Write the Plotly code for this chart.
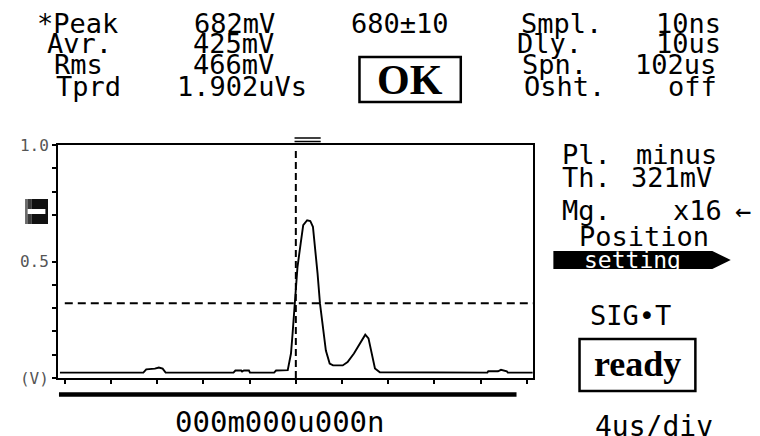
import plotly.graph_objects as go

# ---------------- data ----------------
t_us = [-0.42, 6.80, 7.05, 7.80, 8.14, 8.47, 8.73, 14.60, 14.77, 15.27, 15.35, 15.50, 15.94, 16.03,
        18.12, 18.29, 19.30, 19.58, 19.72, 19.86, 20.00, 20.14, 20.42, 20.64, 20.98, 21.25, 21.48,
        21.67, 21.88, 22.09, 22.32, 22.60, 22.93, 23.22, 24.06, 24.48, 25.03, 25.59, 26.01, 26.29,
        26.57, 26.85, 27.27, 36.58, 36.66, 37.50, 37.76, 38.01, 38.26, 38.35, 40.50]
volts = [0.023, 0.023, 0.037, 0.040, 0.045, 0.040, 0.023, 0.023, 0.032, 0.032, 0.028, 0.032, 0.032, 0.023,
         0.023, 0.032, 0.034, 0.105, 0.191, 0.277, 0.389, 0.475, 0.578, 0.656, 0.677, 0.674, 0.649,
         0.563, 0.449, 0.320, 0.218, 0.118, 0.062, 0.054, 0.054, 0.068, 0.105, 0.154, 0.186, 0.170,
         0.105, 0.041, 0.025, 0.023, 0.029, 0.029, 0.035, 0.033, 0.029, 0.023, 0.023]
x_ticks = [0, 4, 8, 12, 16, 20, 24, 28, 32, 36, 40]
y_ticks = [0.0, 0.1, 0.2, 0.3, 0.4, 0.5, 0.7, 0.8, 0.9, 1.0]
y_ticktext = ["(V)", "", "", "", "", "0.5", "", "", "", "1.0"]
trigger_time = 20.0
threshold = 0.321

# page is rendered with an 8px body margin -> figure is offset by 8px
OFF = 8
PAGE_W, PAGE_H = 760, 436
W, H = PAGE_W - OFF, PAGE_H - OFF
# plot frame in page pixels
L, R, T, B = 43, 533, 145, 378

def px(x):
    return (x - L) / (R - L)

def py(y):
    return (B - y) / (B - T)

MONO = "DejaVu Sans Mono"

fig = go.Figure()
fig.add_trace(go.Scatter(x=t_us, y=volts, mode="lines",
                         line=dict(color="black", width=1.9), hoverinfo="skip"))

shapes = []
# trigger & threshold
shapes.append(dict(type="line", xref="x", yref="paper", x0=trigger_time, x1=trigger_time,
                   y0=0, y1=py(150), line=dict(color="black", width=2, dash="7px,4px")))
shapes.append(dict(type="line", xref="x", yref="y", x0=0, x1=40.53, y0=threshold, y1=threshold,
                   line=dict(color="black", width=2, dash="8px,5px")))
# "=" marker above frame
for yy in (138, 141.5):
    shapes.append(dict(type="line", xref="paper", yref="paper", x0=px(287), x1=px(314),
                       y0=py(yy), y1=py(yy), line=dict(color="black", width=1.5)))
# thick bar below the chart
shapes.append(dict(type="rect", xref="paper", yref="paper", x0=px(44), x1=px(516),
                   y0=py(392.3), y1=py(396.7), fillcolor="black", line=dict(width=0)))
# left level marker box
for (a, b, c) in ((9, 12, "#6a6a6a"), (12, 16, "#3a3a3a"), (16, 32.7, "#111111")):
    shapes.append(dict(type="rect", xref="paper", yref="paper", x0=px(a), x1=px(b),
                       y0=py(199), y1=py(224), fillcolor=c, line=dict(width=0)))
shapes.append(dict(type="rect", xref="paper", yref="paper", x0=px(11.7), x1=px(30),
                   y0=py(209), y1=py(214), fillcolor="white", line=dict(width=0)))
# OK box
shapes.append(dict(type="rect", xref="paper", yref="paper", x0=px(354), x1=px(458.5),
                   y0=py(57), y1=py(102), line=dict(color="black", width=2.5)))
# ready box
shapes.append(dict(type="rect", xref="paper", yref="paper", x0=px(581), x1=px(700.5),
                   y0=py(339), y1=py(391), line=dict(color="black", width=2.5)))
# setting bar with pointer
path = "M {a},{t} L {b},{t} L {c},{m} L {b},{bt} L {a},{bt} Z".format(
    a=px(554), b=px(718), c=px(737), t=py(251), m=py(260), bt=py(269))
shapes.append(dict(type="path", xref="paper", yref="paper", path=path,
                   fillcolor="black", line=dict(width=0)))

ann = []
def txt(s, x, y, size=27, color="black", family=MONO, anchor="center", weight="normal"):
    ann.append(dict(text=s, x=px(x), y=py(y), xref="paper", yref="paper", showarrow=False,
                    xanchor=anchor, yanchor="middle",
                    font=dict(family=family, size=size, color=color, weight=weight)))

# top info block
txt("*Peak", 63.5, 24); txt("682mV", 225, 24); txt("680±10", 396, 24)
txt("Smpl.", 562, 24); txt("10ns", 693, 24)
txt("Avr.", 65, 44); txt("425mV", 224, 44); txt("Dly.", 550, 44); txt("10us", 693, 44)
txt("Rms", 64.5, 65); txt("466mV", 224, 65); txt("Spn.", 555, 65); txt("102us", 680, 65)
txt("Tprd", 74.5, 86); txt("1.902uVs", 233, 86); txt("Osht.", 566, 86); txt("off", 698, 86)
txt("OK", 406, 80, size=42, family="Liberation Serif", weight="bold")
# right column
txt("Pl.", 588, 154); txt("minus", 681, 154)
txt("Th.", 588, 177); txt("321mV", 676, 177)
txt("Mg.", 588, 210); txt("x16", 703, 210); txt("←", 750, 210)
txt("Position", 648, 236)
txt("setting", 636, 260, size=23, color="white")
txt("SIG•T", 633.5, 315)
txt("ready", 641, 364, size=36, family="Liberation Serif", weight="bold")
txt("4us/div", 658, 426, size=28)
txt("000m000u000n", 272.5, 422, size=29)

fig.update_layout(
    width=W, height=H, margin=dict(l=L - OFF, r=W - (R - OFF), t=T - OFF, b=H - (B - OFF), pad=0),
    paper_bgcolor="white", plot_bgcolor="white", showlegend=False,
    shapes=shapes, annotations=ann,
)
fig.update_xaxes(range=[-0.587, 40.53], showline=True, linewidth=2, linecolor="black", mirror=True,
                 ticks="outside", ticklen=4, tickwidth=2, tickcolor="black", tickvals=x_ticks,
                 showticklabels=False, showgrid=False, zeroline=False, fixedrange=True)
fig.update_yaxes(range=[0, 1.0], showline=True, linewidth=2, linecolor="black", mirror=True,
                 ticks="outside", ticklen=4, tickwidth=2, tickcolor="black", tickvals=y_ticks,
                 ticktext=y_ticktext, tickfont=dict(family=MONO, size=16, color="#555555"),
                 showgrid=False, zeroline=False, fixedrange=True)

fig.write_html("out.html")
